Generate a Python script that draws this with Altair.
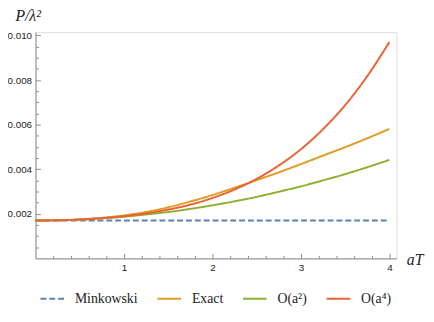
import altair as alt
import pandas as pd

# ---- data ----
aT = [0, 0.25, 0.5, 0.75, 1, 1.25, 1.5, 1.75, 2, 2.25, 2.5, 2.75, 3, 3.25, 3.5, 3.75, 4]
minkowski = [0.00170, 0.00170, 0.00170, 0.00170, 0.00170, 0.00170, 0.00170, 0.00170, 0.00170,
             0.00170, 0.00170, 0.00170, 0.00170, 0.00170, 0.00170, 0.00170, 0.00170]
exact = [0.00170, 0.00171, 0.00175, 0.00182, 0.00193, 0.00208, 0.00229, 0.00255, 0.00284,
         0.00317, 0.00351, 0.00386, 0.00423, 0.00461, 0.00499, 0.00539, 0.00581]
order2 = [0.00170, 0.00171, 0.00174, 0.00180, 0.00187, 0.00197, 0.00208, 0.00222, 0.00238,
          0.00256, 0.00276, 0.00299, 0.00323, 0.00350, 0.00378, 0.00409, 0.00442]
order4 = [0.00170, 0.00171, 0.00174, 0.00180, 0.00189, 0.00202, 0.00219, 0.00241, 0.00271,
          0.00309, 0.00357, 0.00417, 0.00490, 0.00580, 0.00688, 0.00818, 0.00971]

series_names = ["Minkowski", "Exact", "O(a²)", "O(a⁴)"]
series_colors = ["#5E81B5", "#E19C24", "#8FB032", "#EB6235"]
series_dash = [[6, 3], [1, 0], [1, 0], [1, 0]]

x_major = [1, 2, 3, 4]
x_minor = [0.2, 0.4, 0.6, 0.8, 1.2, 1.4, 1.6, 1.8, 2.2, 2.4, 2.6, 2.8, 3.2, 3.4, 3.6, 3.8]
y_major = [0.002, 0.004, 0.006, 0.008, 0.010]
y_minor = [0.0005, 0.001, 0.0015, 0.0025, 0.003, 0.0035, 0.0045, 0.005, 0.0055,
           0.0065, 0.007, 0.0075, 0.0085, 0.009, 0.0095]

rows = []
for name, vals in zip(series_names, [minkowski, exact, order2, order4]):
    for x, v in zip(aT, vals):
        rows.append({"aT": x, "P": v, "series": name})
df = pd.DataFrame(rows)

W, H = 367, 230
axis_gray = "#8c8c8c"
x_scale = alt.Scale(domain=[0, 4.08], nice=False, zero=False)
y_scale = alt.Scale(domain=[0, 0.01015], nice=False, zero=False)

legend_cfg = dict(
    orient="none", legendX=4, legendY=258, direction="horizontal", title=None,
    symbolType="stroke", symbolSize=576, symbolStrokeWidth=2,
    labelFont="Liberation Serif", labelFontSize=14, labelColor="#222",
    labelOffset=10, columnPadding=16, padding=0,
)

lines = alt.Chart(df).mark_line(strokeWidth=2, interpolate="monotone").encode(
    x=alt.X("aT:Q", scale=x_scale, axis=alt.Axis(
        values=x_major, ticks=False, grid=False, domainColor=axis_gray, domainWidth=1,
        labelColor="#222", labelFontSize=10, labelFont="Liberation Sans", labelPadding=4,
        title="aT", titleX=W + 10, titleY=1, titleAlign="left", titleBaseline="middle",
        titleFont="Liberation Serif", titleFontStyle="italic", titleFontWeight="normal",
        titleFontSize=16, titleColor="#222", orient="bottom")),
    y=alt.Y("P:Q", scale=y_scale, axis=alt.Axis(
        values=y_major, format=".3f", ticks=False, grid=False, domainColor=axis_gray,
        domainWidth=1, labelColor="#222", labelFontSize=10, labelFont="Liberation Sans",
        labelPadding=4, title="P/λ²", titleAngle=0, titleX=-21, titleY=-12,
        titleAlign="left", titleBaseline="alphabetic", titleFont="Liberation Serif",
        titleFontStyle="italic", titleFontWeight="normal", titleFontSize=16,
        titleColor="#222", orient="left")),
    color=alt.Color("series:N", scale=alt.Scale(domain=series_names, range=series_colors),
                    legend=alt.Legend(**legend_cfg)),
    strokeDash=alt.StrokeDash("series:N", scale=alt.Scale(domain=series_names, range=series_dash),
                              legend=alt.Legend(**legend_cfg)),
)


def tick_layer(xvals, yvals, size):
    return alt.Chart(df).mark_point(opacity=0).encode(
        x=alt.X("aT:Q", scale=x_scale, axis=alt.Axis(
            values=xvals, labels=False, domain=False, grid=False, ticks=True,
            tickSize=size, tickWidth=1, tickColor=axis_gray, offset=-size,
            orient="bottom", title=None)),
        y=alt.Y("P:Q", scale=y_scale, axis=alt.Axis(
            values=yvals, labels=False, domain=False, grid=False, ticks=True,
            tickSize=size, tickWidth=1, tickColor=axis_gray, offset=-size,
            orient="left", title=None)),
    )


chart = alt.layer(
    lines,
    tick_layer(x_major, y_major, 5),
    tick_layer(x_minor, y_minor, 3),
).resolve_axis(x="independent", y="independent").properties(
    width=W, height=H,
    autosize=alt.AutoSizeParams(type="none"),
    padding={"left": 28, "top": 22, "right": 30, "bottom": 54},
).configure_view(stroke=None).configure(background="white")

chart.save("out.html", embed_options={"renderer": "svg", "actions": False})
